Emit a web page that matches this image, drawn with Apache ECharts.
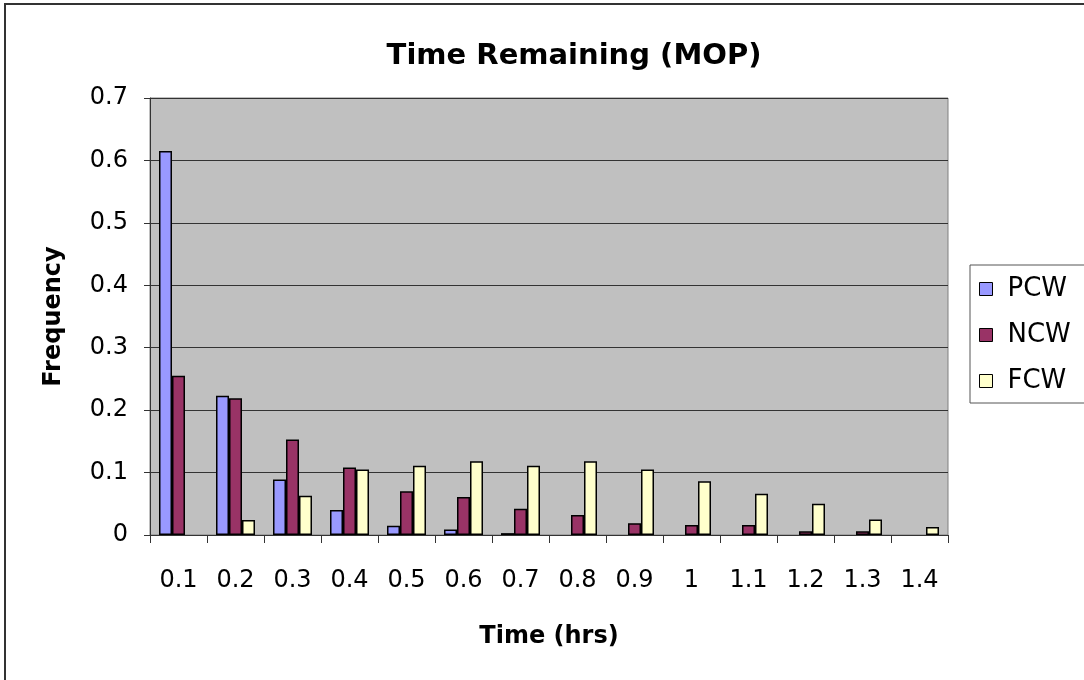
<!DOCTYPE html>
<html>
<head>
<meta charset="utf-8">
<script src="https://cdn.jsdelivr.net/npm/echarts@6/dist/echarts.min.js"></script>
<style>
html,body{margin:0;padding:0;background:#fff;}
#chart{width:1084px;height:680px;}
</style>
</head>
<body>
<div id="chart"></div>
<script>
var times=['0.1','0.2','0.3','0.4','0.5','0.6','0.7','0.8','0.9','1','1.1','1.2','1.3','1.4'];
// '-' = no bar drawn
var pcw=[0.615,0.223,0.089,0.040,0.015,0.009,0.003,'-','-','-','-','-','-','-'];
var ncw=[0.255,0.219,0.153,0.108,0.070,0.061,0.042,0.032,0.019,0.016,0.016,0.006,0.006,'-'];
var fcw=['-',0.024,0.063,0.105,0.111,0.118,0.111,0.118,0.105,0.086,0.066,0.050,0.025,0.013];
var yTicks=[0,0.1,0.2,0.3,0.4,0.5,0.6,0.7];

var font='DejaVu Sans, Arial, sans-serif';
var chart=echarts.init(document.getElementById('chart'));

function barSeries(name,data,color){
	return {
		name:name,
		type:'bar',
		data:data,
		barWidth:13,
		barGap:'0%',
		itemStyle:{color:color,borderColor:'#000',borderWidth:1.5}
	}
}

var option={
	animation:false,
	backgroundColor:'#fff',
	graphic:[{
		type:'rect',
		shape:{x:5,y:4,width:1200,height:800},
		style:{fill:'none',stroke:'#333',lineWidth:2}
	}],
	title:{
		text:'Time Remaining (MOP)',
		left:569,
		top:37,
		textAlign:'center',
		textStyle:{fontFamily:font,fontSize:29,fontWeight:'bold',color:'#000'}
	},
	legend:{
		orient:'vertical',
		left:970,
		top:265,
		itemWidth:13,
		itemHeight:13,
		itemGap:20,
		padding:[11,30,9,9],
		borderColor:'#555',
		borderWidth:1,
		backgroundColor:'#fff',
		icon:'rect',
		textStyle:{fontFamily:font,fontSize:26,color:'#000',padding:[0,0,0,10]},
		data:[
			{name:'PCW',itemStyle:{borderColor:'#000',borderWidth:1}},
			{name:'NCW',itemStyle:{borderColor:'#000',borderWidth:1}},
			{name:'FCW',itemStyle:{borderColor:'#000',borderWidth:1}}
		]
	},
	grid:{left:150,top:98,right:136,bottom:145,show:true,backgroundColor:'#c0c0c0',borderColor:'#808080',borderWidth:1},
	xAxis:{
		type:'category',
		data:times,
		name:'Time (hrs)',
		nameLocation:'middle',
		nameGap:90,
		nameTextStyle:{fontFamily:font,fontSize:24,fontWeight:'bold',color:'#000'},
		axisLine:{lineStyle:{color:'#333',width:1}},
		axisTick:{show:true,length:8,lineStyle:{color:'#333'}},
		axisLabel:{fontFamily:font,fontSize:24,color:'#000',margin:34,interval:0}
	},
	yAxis:{
		type:'value',
		min:0,
		max:yTicks[yTicks.length-1],
		interval:0.1,
		name:'Frequency',
		nameLocation:'middle',
		nameGap:84,
		nameTextStyle:{fontFamily:font,fontSize:24,fontWeight:'bold',color:'#000'},
		axisLine:{show:true,lineStyle:{color:'#333',width:1}},
		axisTick:{show:true,length:6,inside:false,lineStyle:{color:'#333'}},
		axisLabel:{fontFamily:font,fontSize:24,color:'#000',margin:22,formatter:function(v){return String(Math.round(v*10)/10);}},
		splitLine:{show:true,lineStyle:{color:'#333',width:1}}
	},
	series:[
		barSeries('PCW',pcw,'#9999ff'),
		barSeries('NCW',ncw,'#993366'),
		barSeries('FCW',fcw,'#ffffcc')
	]
};
chart.setOption(option);
</script>
</body>
</html>
